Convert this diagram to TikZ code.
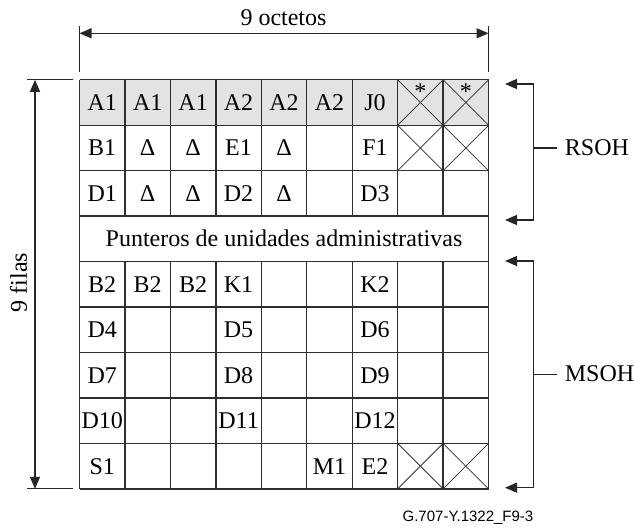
\documentclass[tikz,border=0pt]{standalone}
\usepackage{fontspec}
\setmainfont{Liberation Serif}
\newfontfamily\footfont{Liberation Sans}
\usetikzlibrary{arrows.meta}
\begin{document}
\begin{tikzpicture}[x=1pt,y=-1pt,
  gridline/.style={draw=black!82, line width=1.3pt},
  crossline/.style={draw=black!82, line width=0.75pt},
  celltext/.style={font=\fontsize{24}{28}\selectfont, inner sep=0pt, anchor=base},
  deltatext/.style={font=\fontsize{24}{28}\selectfont, inner sep=0pt, anchor=base},
  startext/.style={font=\fontsize{24}{28}\selectfont, inner sep=0pt, anchor=north},
  dimline/.style={draw=black!85, line width=1.2pt},
  dimarrow/.style={dimline, {Triangle[length=12pt,width=10pt]}-{Triangle[length=12pt,width=10pt]}},
  brackarrow/.style={dimline, -{Triangle[length=12pt,width=10pt]}},
  labeltext/.style={font=\fontsize{24}{28}\selectfont, inner sep=0pt},
  sidelabel/.style={font=\fontsize{24}{28}\selectfont, inner xsep=8pt, inner ysep=0pt, anchor=base west}]
\useasboundingbox (0,0) rectangle (634,529);
\def\X{79.5}\def\Y{79.8}\def\W{45.45}
% gray first row
\fill[gray!22] (\X,\Y) rectangle ({\X+9*\W},{\Y+\W});
% crossed cells
\foreach \r in {1,2,9}{
  \foreach \c in {8,9}{
    \draw[crossline] ({\X+(\c-1)*\W},{\Y+(\r-1)*\W}) -- ({\X+\c*\W},{\Y+\r*\W});
    \draw[crossline] ({\X+\c*\W},{\Y+(\r-1)*\W}) -- ({\X+(\c-1)*\W},{\Y+\r*\W});
  }
}
% horizontal grid lines
\foreach \r in {0,...,9}{
  \draw[gridline] (\X,{\Y+\r*\W}) -- ({\X+9*\W},{\Y+\r*\W});
}
% outer verticals
\draw[gridline] (\X,\Y) -- (\X,{\Y+9*\W});
\draw[gridline] ({\X+9*\W},\Y) -- ({\X+9*\W},{\Y+9*\W});
% inner verticals (interrupted in row 4)
\foreach \c in {1,...,8}{
  \draw[gridline] ({\X+\c*\W},\Y) -- ({\X+\c*\W},{\Y+3*\W});
  \draw[gridline] ({\X+\c*\W},{\Y+4*\W}) -- ({\X+\c*\W},{\Y+9*\W});
}
% cell texts
\foreach \r/\c/\t in {1/1/A1,1/2/A1,1/3/A1,1/4/A2,1/5/A2,1/6/A2,1/7/J0,
  2/1/B1,2/4/E1,2/7/F1,
  3/1/D1,3/4/D2,3/7/D3,
  5/1/B2,5/2/B2,5/3/B2,5/4/K1,5/7/K2,
  6/1/D4,6/4/D5,6/7/D6,
  7/1/D7,7/4/D8,7/7/D9,
  8/1/D10,8/4/D11,8/7/D12,
  9/1/S1,9/6/M1,9/7/E2}{
  \node[celltext] (t-\r-\c) at ({\X+(\c-0.5)*\W},{\Y+(\r-0.5)*\W+8}) {\t};
}
\foreach \r/\c in {2/2,2/3,2/5,3/2,3/3,3/5}{
  \node[deltatext] (d-\r-\c) at ({\X+(\c-0.5)*\W},{\Y+(\r-0.5)*\W+8}) {Δ};
}
\foreach \c in {8,9}{
  \node[startext] (s-\c) at ({\X+(\c-0.5)*\W},{\Y+4}) {*};
}
\node[celltext] (ptr) at ({\X+4.5*\W},{\Y+3.5*\W+7.5}) {Punteros de unidades administrativas};
% top dimension
\coordinate (tl) at (\X,33.3);
\coordinate (tr) at ({\X+9*\W},33.3);
\coordinate (tlt) at (\X,26);
\coordinate (tlb) at (\X,72);
\coordinate (trt) at ({\X+9*\W},26);
\coordinate (trb) at ({\X+9*\W},72);
\draw[dimline] (tlt) -- (tlb);
\draw[dimline] (trt) -- (trb);
\draw[dimarrow] (tl) -- (tr);
\node[labeltext, anchor=base] (oct) at (283.5,26) {9 octetos};
% left dimension
\coordinate (lt) at (35,\Y);
\coordinate (lb) at (35,{\Y+9*\W});
\coordinate (ltl) at (27,\Y);
\coordinate (ltr) at (73,\Y);
\coordinate (lbl) at (27,{\Y+9*\W});
\coordinate (lbr) at (73,{\Y+9*\W});
\draw[dimline] (ltl) -- (ltr);
\draw[dimline] (lbl) -- (lbr);
\draw[dimarrow] (lt) -- (lb);
\node[labeltext, anchor=base, rotate=90] (fil) at (27,282.5) {9 filas};
% RSOH bracket
\coordinate (rsmid) at (533.3,148);
\coordinate (rstop) at (505,84);
\coordinate (rsbot) at (505,220);
\draw[brackarrow] (rsmid) |- (rstop);
\draw[brackarrow] (rsmid) |- (rsbot);
\node[sidelabel] (rsoh) at (556.7,156) {RSOH};
\draw[dimline] (rsmid) -- (rsoh.west |- rsmid);
% MSOH bracket
\coordinate (msmid) at (533.3,374.3);
\coordinate (mstop) at (505,261);
\coordinate (msbot) at (505,487.7);
\draw[brackarrow] (msmid) |- (mstop);
\draw[brackarrow] (msmid) |- (msbot);
\node[sidelabel] (msoh) at (556.7,381) {MSOH};
\draw[dimline] (msmid) -- (msoh.west |- msmid);
% footer
\node[font=\footfont\fontsize{15}{18}\selectfont, inner sep=0pt, anchor=base east] (foot) at (533.5,521.5) {G.707-Y.1322\_F9-3};
\end{tikzpicture}
\end{document}
